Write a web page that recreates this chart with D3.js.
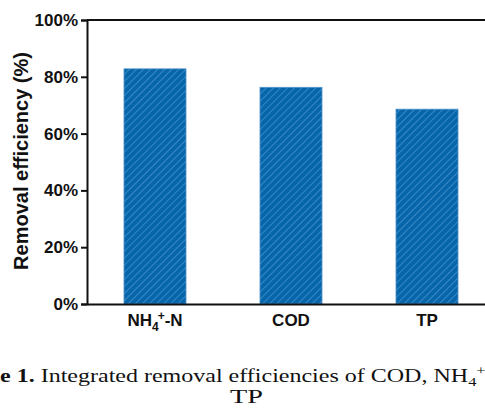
<!DOCTYPE html>
<html>
<head>
<meta charset="utf-8">
<script src="https://cdn.jsdelivr.net/npm/d3@7"></script>
<style>
  body { margin: 0; background: #fff; }
  svg { display: block; }
</style>
</head>
<body>
<div class="svg-container"></div>
<script>
// chart values
const categories = ['NH4+-N', 'COD', 'TP']
const removal = [0.828, 0.763, 0.686]
const yTicks = [0, 0.2, 0.4, 0.6, 0.8, 1.0]

const width = 485
const height = 408
const margin = { top: 20, left: 87, bottom: 104 }

const svg = d3.select('.svg-container').append('svg')
    .attr('width', width)
    .attr('height', height)

// hatch for the bars
const defs = svg.append('defs')
const pat = defs.append('pattern')
    .attr('id', 'hatch')
    .attr('patternUnits', 'userSpaceOnUse')
    .attr('width', 5)
    .attr('height', 5)
    .attr('patternTransform', 'rotate(45)')
pat.append('rect')
    .attr('width', 5).attr('height', 5)
    .attr('fill', '#0766aa')
pat.append('line')
    .attr('x1', 0).attr('y1', 0)
    .attr('x2', 0).attr('y2', 5)
    .attr('stroke', '#64aae0')
    .attr('stroke-width', 1)

const y = d3.scaleLinear()
    .domain([0, 1])
    .range([height - margin.bottom, margin.top])

const x = d3.scaleBand()
    .domain(categories)
    .range([margin.left, 495])
    .paddingInner(0.544)
    .paddingOuter(0.272)

// bars
svg.append('g').selectAll('rect')
    .data(removal)
    .enter()
    .append('rect')
    .attr('x', (d, i) => x(categories[i]))
    .attr('y', d => y(d))
    .attr('width', x.bandwidth())
    .attr('height', d => y(0) - y(d))
    .attr('fill', 'url(#hatch)')
    .attr('stroke', '#4e94cc')
    .attr('stroke-width', 0.8)

// frame top line
svg.append('line')
    .attr('x1', margin.left).attr('x2', 495)
    .attr('y1', y(1)).attr('y2', y(1))
    .attr('stroke', '#111')
    .attr('stroke-width', 2)

// y axis
const axeY = d3.axisLeft(y)
    .tickValues(yTicks)
    .tickFormat(d3.format('.0%'))
    .tickSize(6)
    .tickPadding(3)
const gy = svg.append('g')
    .attr('transform', `translate(${margin.left},0)`)
    .call(axeY)
gy.select('.domain').attr('stroke', '#111').attr('stroke-width', 2)
gy.selectAll('.tick line').attr('stroke', '#111').attr('stroke-width', 2)
gy.selectAll('.tick text')
    .attr('fill', '#111')
    .style('font-family', 'Liberation Sans, Arial, sans-serif')
    .style('font-weight', 'bold')
    .style('font-size', '17px')

// x axis
const axeX = d3.axisBottom(x).tickSize(0).tickPadding(10)
const gx = svg.append('g')
    .attr('transform', `translate(0,${y(0)})`)
    .call(axeX)
gx.select('.domain').attr('stroke', '#111').attr('stroke-width', 2)
gx.selectAll('.tick text')
    .attr('fill', '#111')
    .style('font-family', 'Liberation Sans, Arial, sans-serif')
    .style('font-weight', 'bold')
    .style('font-size', '17px')
    .each(function (d) {
        if (d === 'NH4+-N') {
            const t = d3.select(this).text('NH')
            t.append('tspan').text('4').attr('dy', 5).style('font-size', '12px')
            t.append('tspan').text('+').attr('dy', -11).attr('dx', -1).style('font-size', '12px')
            t.append('tspan').text('-N').attr('dy', 6)
        }
    })

// y title
svg.append('text')
    .attr('transform', 'translate(28,161) rotate(-90)')
    .attr('text-anchor', 'middle')
    .attr('fill', '#111')
    .style('font-family', 'Liberation Sans, Arial, sans-serif')
    .style('font-weight', 'bold')
    .style('font-size', '20px')
    .text('Removal efficiency (%)')

// caption (cropped and stretched in the source)
const cap = svg.append('text')
    .attr('fill', '#111')
    .style('font-family', 'Liberation Serif, Times New Roman, serif')
    .style('font-size', '19px')
cap.append('tspan').text('e 1.').style('font-weight', 'bold')
cap.append('tspan').text(' Integrated removal efficiencies of COD, NH')
cap.append('tspan').text('4').attr('dy', 4).style('font-size', '13px')
cap.append('tspan').text('+').attr('dy', -11).style('font-size', '13px')
const capW = cap.node().getBBox().width
cap.attr('transform', `translate(0,382) scale(${486 / capW},1)`)

const tp = svg.append('text')
    .attr('fill', '#111')
    .style('font-family', 'Liberation Serif, Times New Roman, serif')
    .style('font-size', '19px')
    .text('TP')
const tpW = tp.node().getBBox().width
tp.attr('transform', `translate(230,403) scale(${33 / tpW},1)`)
</script>
</body>
</html>
